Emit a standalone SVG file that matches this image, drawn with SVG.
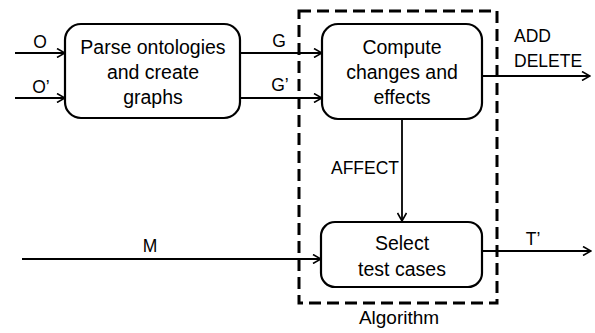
<svg xmlns="http://www.w3.org/2000/svg" width="595" height="333" viewBox="0 0 595 333">
  <style>
    .box { fill: #fff; stroke: #000; stroke-width: 2.2; }
    .t { font-family: "Liberation Sans", Arial, sans-serif; font-size: 19.5px; fill: #000; text-anchor: middle; }
    .lbl { font-family: "Liberation Sans", Arial, sans-serif; font-size: 17.5px; fill: #000; }
    .c { fill: none; stroke: #000; stroke-width: 1.8; marker-end: url(#arr); }
    .frame { fill: none; stroke: #000; stroke-width: 3; stroke-dasharray: 12 6; }
  </style>
  <defs>
    <marker id="arr" viewBox="0 0 10 10" refX="9" refY="5" markerWidth="10" markerHeight="10" markerUnits="userSpaceOnUse" orient="auto">
      <path d="M1,0.5 L9,5 L1,9.5" fill="none" stroke="#000" stroke-width="1.6"/>
    </marker>
  </defs>

  <rect id="algorithm-frame" class="frame" x="299" y="11" width="198" height="292"/>

  <g id="parse">
    <rect class="box" x="65" y="24" width="175" height="94" rx="16"/>
    <text class="t" x="153" y="54">Parse ontologies</text>
    <text class="t" x="153" y="79">and create</text>
    <text class="t" x="153" y="104">graphs</text>
  </g>

  <g id="compute">
    <rect class="box" x="322" y="24" width="160" height="95" rx="16"/>
    <text class="t" x="402" y="54">Compute</text>
    <text class="t" x="402" y="79">changes and</text>
    <text class="t" x="402" y="104">effects</text>
  </g>

  <g id="select">
    <rect class="box" x="321" y="222" width="161" height="65" rx="14"/>
    <text class="t" x="402" y="250">Select</text>
    <text class="t" x="402" y="276">test cases</text>
  </g>

  <g id="connectors">
    <line class="c" x1="15" y1="53" x2="65" y2="53"/>
    <line class="c" x1="15" y1="98" x2="65" y2="98"/>
    <line class="c" x1="240" y1="53" x2="322" y2="53"/>
    <line class="c" x1="240" y1="98" x2="322" y2="98"/>
    <line class="c" x1="482" y1="76" x2="590" y2="76"/>
    <line class="c" x1="402" y1="119" x2="402" y2="221"/>
    <line class="c" x1="22" y1="259" x2="321" y2="259"/>
    <line class="c" x1="482" y1="251" x2="591" y2="251"/>
  </g>

  <g id="labels">
    <text class="lbl" x="40" y="48" text-anchor="middle">O</text>
    <text class="lbl" x="41" y="93" text-anchor="middle">O’</text>
    <text class="lbl" x="279" y="47" text-anchor="middle">G</text>
    <text class="lbl" x="280" y="91" text-anchor="middle">G’</text>
    <text class="lbl" x="514" y="42">ADD</text>
    <text class="lbl" x="514" y="67">DELETE</text>
    <text class="lbl" x="331" y="174">AFFECT</text>
    <text class="lbl" x="150" y="252" text-anchor="middle">M</text>
    <text class="lbl" x="533" y="245" text-anchor="middle">T’</text>
    <text class="lbl" x="399" y="324" text-anchor="middle" style="font-size:19px">Algorithm</text>
  </g>
</svg>
